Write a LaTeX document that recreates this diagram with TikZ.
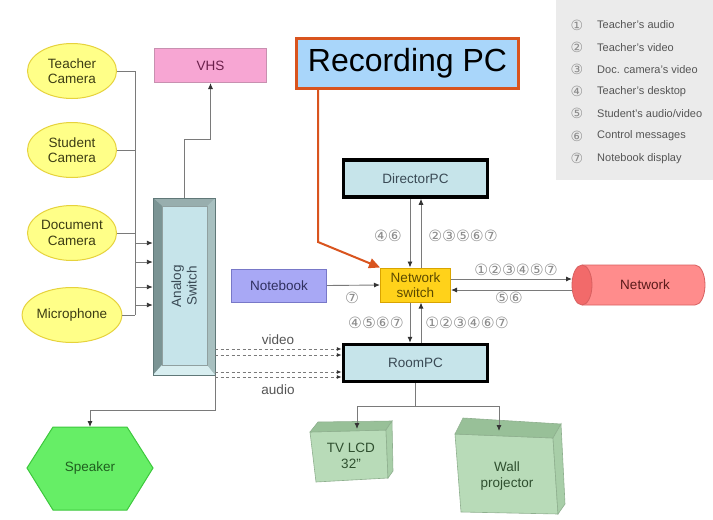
\documentclass[tikz,border=0pt]{standalone}
\usepackage{fontspec}
\setmainfont{Liberation Sans}
\newfontfamily\symfont{DejaVu Sans}
\usetikzlibrary{arrows.meta,shapes.geometric}

\definecolor{camfill}{HTML}{FFFF88}
\definecolor{camedge}{HTML}{E6D23C}
\definecolor{camtext}{HTML}{3C3C14}
\definecolor{pcfill}{HTML}{C6E4EA}
\definecolor{pctext}{HTML}{3A4A55}
\definecolor{swfill}{HTML}{FFD21A}
\definecolor{swedge}{HTML}{D9A400}
\definecolor{swtext}{HTML}{5C4A00}
\definecolor{nbfill}{HTML}{A8A8F5}
\definecolor{nbedge}{HTML}{7878C8}
\definecolor{nbtext}{HTML}{303060}
\definecolor{vhsfill}{HTML}{F7A6D3}
\definecolor{vhsedge}{HTML}{C890B0}
\definecolor{vhstext}{HTML}{6A1F4A}
\definecolor{recfill}{HTML}{A9D6FA}
\definecolor{recedge}{HTML}{D9541E}
\definecolor{netbody}{HTML}{FF8C8C}
\definecolor{netcap}{HTML}{F26A6A}
\definecolor{netedge}{HTML}{D86060}
\definecolor{nettext}{HTML}{5A1A1A}
\definecolor{spkfill}{HTML}{66EE66}
\definecolor{spkedge}{HTML}{3CC83C}
\definecolor{spktext}{HTML}{1F5F1F}
\definecolor{tvfront}{HTML}{B8DBB8}
\definecolor{tvtopc}{HTML}{98C098}
\definecolor{tvside}{HTML}{A8CEA8}
\definecolor{tvedge}{HTML}{8FB08F}
\definecolor{tvtext}{HTML}{2F4F2F}
\definecolor{linegray}{HTML}{7A7A7A}
\definecolor{numgray}{HTML}{8C8C8C}
\definecolor{leggray}{HTML}{EBEBEB}
\definecolor{legtext}{HTML}{555555}
\definecolor{bevedge}{HTML}{607878}
\definecolor{bevleft}{HTML}{7B9494}
\definecolor{bevtop}{HTML}{98AEAE}
\definecolor{bevright}{HTML}{A8C0C0}
\definecolor{bevbot}{HTML}{D8EEF0}

\begin{document}
\begin{tikzpicture}[x=1pt,y=-1pt,
  lbl/.style={font=\fontsize{13.5}{15.5}\selectfont, align=center, inner sep=0pt},
  cam/.style={ellipse, draw=camedge, line width=1pt, fill=camfill,
    minimum width=89pt, minimum height=55pt, lbl, text=camtext},
  pcbox/.style={rectangle, draw=black, line width=3.5pt, fill=pcfill,
    minimum width=144pt, minimum height=37pt, lbl, text=pctext},
  conn/.style={draw=linegray, line width=0.9pt},
  arr/.style={conn, -{Latex[length=6pt,width=5pt,color=black!80]}},
  dashconn/.style={draw=linegray, line width=0.9pt, dash pattern=on 3pt off 2.5pt,
    -{Latex[length=5pt,width=4pt,color=black!80]}},
  numtag/.style={font=\symfont\fontsize{15.5}{15.5}\selectfont, text=numgray, inner sep=0pt},
  legnum/.style={font=\symfont\fontsize{14}{14}\selectfont, text=numgray, inner sep=0pt},
  legtxt/.style={font=\fontsize{11}{12}\selectfont, text=legtext, inner sep=0pt, anchor=west},
  boxtext/.style={lbl, text=tvtext}]

\useasboundingbox (0,0) rectangle (713,520);
\fill[white] (0,0) rectangle (713,520);

% legend
\fill[leggray] (556,0) rectangle (713,180);
\foreach \n/\t [count=\i] in {①/{Teacher's audio}, ②/{Teacher's video},
    ③/{Doc. camera's video}, ④/{Teacher's desktop}, ⑤/{Student's audio/video},
    ⑥/{Control messages}, ⑦/{Notebook display}} {
  \node[legnum] (legn\i) at (577,{25+22.2*(\i-1)}) {\n};
  \node[legtxt] (legt\i) at (597,{25+22.2*(\i-1)}) {\t};
}

% sources
\node[cam] (tcam) at (72,71) {Teacher\\Camera};
\node[cam] (scam) at (72,150) {Student\\Camera};
\node[cam] (dcam) at (72,233) {Document\\Camera};
\node[cam] (mic) at (72,315) {Microphone};

% analog switch (bevelled box)
\node[draw=bevedge, fill=bevleft, minimum width=62pt, minimum height=177pt, inner sep=0pt] (asw) at (184,286.5) {};
\fill[bevtop] (153,198) -- (215,198) -- (207,206) -- (162,206) -- cycle;
\fill[bevleft] (153,198) -- (162,206) -- (162,365) -- (153,375) -- cycle;
\fill[bevright] (215,198) -- (207,206) -- (207,365) -- (215,375) -- cycle;
\fill[bevbot] (153,375) -- (162,365) -- (207,365) -- (215,375) -- cycle;
\filldraw[fill=pcfill, draw=bevedge!70, line width=0.6pt] (162,206) rectangle (207,365);
\draw[bevedge, line width=0.8pt] (153,198) rectangle (215,375);
\node[lbl, rotate=90, text=pctext] (aswlbl) at (184,286) {Analog\\Switch};

% VHS
\node[draw=vhsedge, fill=vhsfill, line width=1pt, minimum width=112pt, minimum height=34pt,
  lbl, text=vhstext] (vhs) at (210.5,65.5) {VHS};

% PCs and switch
\node[pcbox] (dpc) at (415.5,178.5) {DirectorPC};
\node[pcbox] (rpc) at (415.5,363) {RoomPC};
\node[draw=swedge, line width=1pt, fill=swfill, minimum width=70pt, minimum height=34pt,
  lbl, text=swtext] (nsw) at (415.5,285) {Network\\switch};
\node[draw=nbedge, line width=1pt, fill=nbfill, minimum width=95pt, minimum height=33pt,
  lbl, text=nbtext] (nb) at (279,285.5) {Notebook};

% network cylinder
\fill[netbody] (582,265) -- (695,265) arc[start angle=-90,end angle=90,x radius=10,y radius=20] -- (582,305) -- cycle;
\draw[netedge, line width=0.8pt] (582,265) -- (695,265) arc[start angle=-90,end angle=90,x radius=10,y radius=20] -- (582,305);
\filldraw[fill=netcap, draw=netedge, line width=0.8pt] (582,285) ellipse[x radius=10, y radius=20];
\node[lbl, text=nettext] (net) at (645,285) {Network};
\coordinate (netin) at (572,279);
\coordinate (netout) at (572,290);

% speaker
\filldraw[fill=spkfill, draw=spkedge, line width=1pt]
  (27,468) -- (53,427) -- (127,427) -- (153,468) -- (127,510) -- (53,510) -- cycle;
\node[lbl, text=spktext] (spk) at (90,468) {Speaker};
\coordinate (spktop) at (90,427);

% displays
\filldraw[fill=tvfront, draw=tvedge, line width=0.6pt] (310,432) -- (386,430) -- (388,478) -- (316,482) -- cycle;
\filldraw[fill=tvtopc, draw=tvedge, line width=0.6pt] (310,432) -- (318,422) -- (392,421) -- (386,430) -- cycle;
\filldraw[fill=tvside, draw=tvedge, line width=0.6pt] (386,430) -- (392,421) -- (393,471) -- (388,478) -- cycle;
\node[boxtext] (tv) at (351,456) {TV LCD\\32''};
\coordinate (tvtop) at (357,429);

\filldraw[fill=tvfront, draw=tvedge, line width=0.6pt] (455,434) -- (553,438) -- (558,514) -- (461,512) -- cycle;
\filldraw[fill=tvtopc, draw=tvedge, line width=0.6pt] (455,434) -- (463,418) -- (561,424) -- (553,438) -- cycle;
\filldraw[fill=tvside, draw=tvedge, line width=0.6pt] (553,438) -- (561,424) -- (565,504) -- (558,514) -- cycle;
\node[boxtext] (wp) at (507,476) {Wall\\projector};
\coordinate (wptop) at (499,431);

% recording PC callout
\node[draw=recedge, line width=3pt, fill=recfill, minimum width=222pt, minimum height=50pt,
  inner sep=0pt, font=\fontsize{32}{36}\selectfont] (rec) at (407.5,63.5) {Recording PC};

% connectors: cameras to analog switch
\coordinate (bus) at (135,0);
\foreach \c in {tcam,scam,dcam,mic} \draw[conn] (\c.east) -- (\c.east -| bus);
\draw[conn] (tcam.east -| bus) -- (mic.east -| bus);
\foreach \yy [count=\k] in {243,262,287,305} {
  \coordinate (in\k) at (0,\yy);
  \draw[arr] (bus |- in\k) -- (asw.west |- in\k);
}

\draw[arr] (asw.north) -- ++(0,-58) -| (vhs.south);
\draw[arr] (asw.south east) -- ++(0,35) -| (spktop);

% network links
\draw[arr] ([xshift=-5.5pt]dpc.south) -- ([xshift=-5.5pt]nsw.north);
\draw[arr] ([xshift=5.5pt]nsw.north) -- ([xshift=5.5pt]dpc.south);
\draw[arr] ([xshift=-5.5pt]nsw.south) -- ([xshift=-5.5pt]rpc.north);
\draw[arr] ([xshift=5.5pt]rpc.north) -- ([xshift=5.5pt]nsw.south);
\draw[arr] (nb.east) -- (nsw.west);
\draw[arr] (nsw.east |- netin) -- (netin);
\draw[arr] (netout) -- (nsw.east |- netout);

% analog video / audio to room PC
\foreach \yy/\nm in {349/va,355/vb,372/aa,377/ab} {
  \coordinate (\nm) at (0,\yy);
  \draw[dashconn] (asw.east |- \nm) -- (rpc.west |- \nm);
}
\node[lbl, text=legtext] (vlbl) at (278,340) {video};
\node[lbl, text=legtext] (albl) at (278,390) {audio};

% room PC to displays
\draw[conn] (rpc.south) -- ++(0,23) coordinate (split);
\draw[arr] (split) -| (tvtop);
\draw[arr] (split) -| (wptop);

% message tags
\node[numtag] (t1) at (388,236) {④⑥};
\node[numtag] (t2) at (463,236) {②③⑤⑥⑦};
\node[numtag] (t3) at (352,298) {⑦};
\node[numtag] (t4) at (516,270) {①②③④⑤⑦};
\node[numtag] (t5) at (509,298) {⑤⑥};
\node[numtag] (t6) at (376,323) {④⑤⑥⑦};
\node[numtag] (t7) at (467,323) {①②③④⑥⑦};

% callout pointer
\draw[recedge, line width=2pt, -{Triangle[length=11pt,width=10pt]}]
  ([xshift=23pt]rec.south west) -- (318,242) -- (nsw.north west);
\end{tikzpicture}
\end{document}
